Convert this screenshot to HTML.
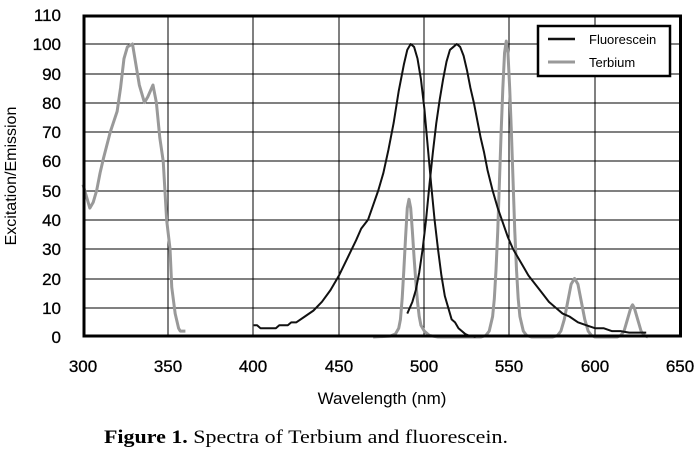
<!DOCTYPE html><html><head><style>
body{margin:0;background:#fff;width:699px;height:455px;overflow:hidden}
text{font-family:"Liberation Sans",Arial,sans-serif}
</style></head><body>
<svg width="699" height="455" viewBox="0 0 699 455" xmlns="http://www.w3.org/2000/svg">
<g stroke="#000" stroke-width="1">
<line x1="83" y1="308" x2="681" y2="308"/><line x1="83" y1="279" x2="681" y2="279"/><line x1="83" y1="249" x2="681" y2="249"/><line x1="83" y1="220" x2="681" y2="220"/><line x1="83" y1="191" x2="681" y2="191"/><line x1="83" y1="161" x2="681" y2="161"/><line x1="83" y1="132" x2="681" y2="132"/><line x1="83" y1="103" x2="681" y2="103"/><line x1="83" y1="74" x2="681" y2="74"/><line x1="83" y1="44" x2="681" y2="44"/>
<line x1="168" y1="15" x2="168" y2="337"/><line x1="253" y1="15" x2="253" y2="337"/><line x1="339" y1="15" x2="339" y2="337"/><line x1="424" y1="15" x2="424" y2="337"/><line x1="509" y1="15" x2="509" y2="337"/><line x1="595" y1="15" x2="595" y2="337"/>
</g>
<g transform="translate(83,337) scale(1.7067,-2.93) translate(-300,0)" fill="none" stroke-linejoin="round">
<polyline vector-effect="non-scaling-stroke" stroke="#999" stroke-width="3" points="300,52 304,44 306,46 308,50 310,56 312,61 316,70 320,77 322,85 324,95 326,99 329,100 331,93 333,86 336,80 338,82 341,86 343,80 345,68 347,60 349,40 351,30 352,17 354,8 356,3 357,2 360,2"/>
<polyline vector-effect="non-scaling-stroke" stroke="#999" stroke-width="3" points="470,0 480,0.3 483,1 485,3 486,6 487,13 488,23 489,34 490,44 491,47 492,44 493,36 494,27 495,19 496,12 497,7 498,4 500,2 503,0.5 508,0 533,0 536,0.5 538,2 540,7 541,13 542,23 543,36 544,53 545,70 546,85 547,97 548,101 549,97 550,85 551,70 552,53 553,36 554,23 555,13 556,7 558,2 560,0.5 563,0 575,0 578,0.5 580,2 582,6 584,12 586,18 588,20 590,18 592,12 594,6 596,2 598,0.5 600,0 613,0 615,0.5 617,2 619,6 621,10 622,11 623,10 625,6 627,2 629,0.5 631,0"/>
<polyline vector-effect="non-scaling-stroke" stroke="#111" stroke-width="2" points="400,4 402,4 404,3 410,3 413,3 415,4 420,4 422,5 425,5 430,7 435,9 440,12 445,16 450,21 455,27 460,33 463,37 467,40 470,45 473,50 476,56 479,64 482,73 485,84 488,93 490,98 492,100 494,99 496,95 498,88 500,78 502,65 504,52 506,40 508,30 510,21 512,14 514,10 516,6 518,5 520,3 522,2 524,1 526,0.5 530,0"/>
<polyline vector-effect="non-scaling-stroke" stroke="#111" stroke-width="2" points="490,8 493,12 495,16 497,22 499,30 501,40 503,52 505,63 507,73 509,81 511,88 513,94 515,98 517,99 519,100 521,99 523,96 525,91 527,85 529,80 531,74 533,68 535,63 537,57 540,50 543,44 546,39 549,34 552,30 555,27 558,24 561,21 565,18 569,15 573,12 577,10 581,8 585,7 590,5 595,4 600,3 605,3 610,2 615,2 620,1.5 630,1.5"/>
</g>
<rect x="84" y="16" width="596.5" height="320" fill="none" stroke="#000" stroke-width="3"/>
<rect x="538" y="26" width="132" height="50" fill="#fff" stroke="#000" stroke-width="2.5"/>
<line x1="548" y1="39" x2="575" y2="39" stroke="#111" stroke-width="2.5"/>
<line x1="548" y1="62" x2="575" y2="62" stroke="#999" stroke-width="3"/>
<text x="589" y="44" font-size="13">Fluorescein</text>
<text x="589" y="67" font-size="13">Terbium</text>
<g font-size="17" text-anchor="end" stroke="#000" stroke-width="0.3">
<text x="61" y="343">0</text><text x="61" y="314">10</text><text x="61" y="285">20</text><text x="61" y="255">30</text><text x="61" y="226">40</text><text x="61" y="197">50</text><text x="61" y="167">60</text><text x="61" y="138">70</text><text x="61" y="109">80</text><text x="61" y="80">90</text><text x="61" y="50">100</text><text x="61" y="21">110</text>
</g>
<g font-size="17" text-anchor="middle">
<g stroke="#000" stroke-width="0.3">
<text x="83" y="372">300</text><text x="168" y="372">350</text><text x="253" y="372">400</text><text x="339" y="372">450</text><text x="424" y="372">500</text><text x="509" y="372">550</text><text x="595" y="372">600</text><text x="680" y="372">650</text>
</g>
<text x="382" y="404" font-size="17">Wavelength (nm)</text>
</g>
<text transform="translate(16,176) rotate(-90)" font-size="16" text-anchor="middle">Excitation/Emission</text>
<text x="104" y="443" font-size="19" textLength="404" lengthAdjust="spacingAndGlyphs" style="font-family:'Liberation Serif',serif"><tspan font-weight="bold">Figure 1.</tspan>  Spectra of Terbium and fluorescein.</text>
</svg>
</body></html>
